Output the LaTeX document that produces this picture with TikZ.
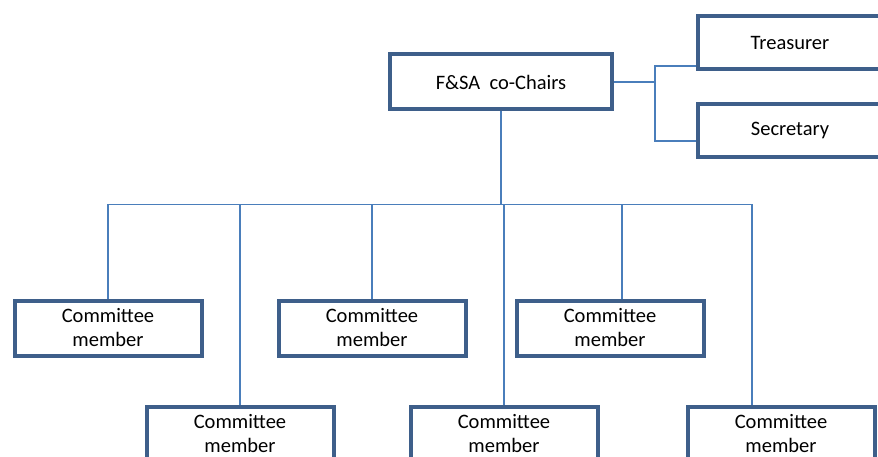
\documentclass[tikz,border=0pt]{standalone}
\usepackage{fontspec}
\setmainfont{Carlito}
\usepackage{tikz}
\definecolor{boxblue}{HTML}{3E5F8A}
\definecolor{linkblue}{HTML}{4A7EBB}

\begin{document}
\begin{tikzpicture}[x=1pt, y=-1pt,
    box/.style = {draw=boxblue, line width=4pt, fill=white, minimum width=187pt, minimum height=55pt, align=center, inner sep=0pt, font=\fontsize{20.5}{24}\selectfont},
    side/.style = {box, minimum width=184pt, minimum height=53pt},
    link/.style = {draw=linkblue, line width=1.5pt},
    node distance={88pt}]
    \useasboundingbox (0,0) rectangle (878,457);
    \clip (0,0) rectangle (878,457);
        \node[box, minimum width=222pt] (chairs) at (501,82) {F\&SA~~co-Chairs};
        \node[side] (tres) at (790,43) {Treasurer};
        \node[side] (sec) [below of=tres] {Secretary};
        \node[box] (m1) at (108,328) {Committee\\member};
        \node[box] (m2) at (372,328) {Committee\\member};
        \node[box] (m3) at (610,328) {Committee\\member};
        \node[box] (m4) at (240,434) {Committee\\member};
        \node[box] (m5) at (504,434) {Committee\\member};
        \node[box] (m6) at (781,434) {Committee\\member};
        \draw[link] (chairs.east) -- ++(41,0) coordinate (split);
        \draw[link] ([yshift=-23pt]tres.west) -| (split) |- ([yshift=-10pt]sec.west);
        \draw[link] (chairs.south) -- ++(0,93) coordinate (hub);
        \draw[link] (m1.north |- hub) -- ([xshift=-29pt]m6.north |- hub);
        \draw[link] (m1.north) -- (m1.north |- hub);
        \draw[link] (m2.north) -- (m2.north |- hub);
        \draw[link] ([xshift=12pt]m3.north) -- ([xshift=12pt]m3.north |- hub);
        \draw[link] (m4.north) -- (m4.north |- hub);
        \draw[link] (m5.north) -- (m5.north |- hub);
        \draw[link] ([xshift=-29pt]m6.north) -- ([xshift=-29pt]m6.north |- hub);
    \end{tikzpicture}
\end{document}
